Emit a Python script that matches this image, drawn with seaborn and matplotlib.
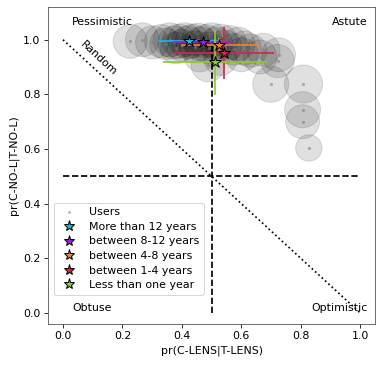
# -*- coding: utf-8 -*-
"""
Quadrant chart of user calibration: pr(C-LENS|T-LENS) against pr(C-NO-L|T-NO-L),
with one star per experience group and its spread as error bars.
"""

import matplotlib
matplotlib.use("Agg")
import matplotlib.pyplot as plt
import seaborn as sns
import pandas as pd

# --- individual users (x, y, bubble size) ---
user_x = [0.226, 0.267, 0.300, 0.330, 0.345, 0.360, 0.375, 0.390, 0.400, 0.410,
          0.420, 0.435, 0.445, 0.455, 0.465, 0.480, 0.490, 0.500, 0.515, 0.530,
          0.545, 0.560, 0.575, 0.590, 0.610, 0.630, 0.663, 0.674, 0.725, 0.722,
          0.488, 0.530, 0.460, 0.699, 0.809, 0.806, 0.806, 0.827, 0.600, 0.380]
user_y = [0.994, 1.000, 0.990, 0.995, 0.985, 1.000, 0.990, 0.995, 0.980, 1.000,
          0.990, 0.995, 0.975, 1.000, 0.985, 0.995, 0.970, 1.000, 0.985, 0.995,
          0.975, 0.990, 0.965, 0.985, 0.970, 0.960, 0.937, 0.963, 0.945, 0.922,
          0.908, 0.930, 0.940, 0.837, 0.838, 0.744, 0.700, 0.604, 0.945, 0.970]
user_size = [1150, 1150, 1100, 1100, 1000, 1150, 1100, 1150, 1000, 1150,
             1100, 1150, 1000, 1100, 1150, 1100, 1000, 1150, 1100, 1150,
             1100, 1150, 1000, 1100, 1150, 1100, 1150, 1100, 1150, 1100,
             1150, 1100, 1000, 1300, 1450, 1300, 1150, 700, 1150, 1000]

# --- experience groups ---
groups = ["More than 12 years", "between 8-12 years", "between 4-8 years",
          "between 1-4 years", "Less than one year"]
group_x = [0.425, 0.470, 0.526, 0.540, 0.512]
group_y = [0.995, 0.990, 0.980, 0.951, 0.917]
group_xerr = [0.105, 0.100, 0.130, 0.170, 0.174]
group_yerr = [0.010, 0.010, 0.027, 0.094, 0.120]
group_colors = ["#1ab8dc", "#9a1aee", "#f0802a", "#e0204a", "#8fc830"]

users = pd.DataFrame({"x": user_x, "y": user_y, "size": user_size})

FS = 11

sns.set_style("ticks")
plt.rcParams["font.family"] = ["DejaVu Sans"]
plt.rcParams["font.size"] = FS
plt.rcParams["axes.edgecolor"] = "0.3"
plt.rcParams["text.color"] = "black"
plt.rcParams["axes.labelcolor"] = "black"
plt.rcParams["xtick.color"] = "black"
plt.rcParams["ytick.color"] = "black"
plt.rcParams["xtick.major.size"] = 4
plt.rcParams["ytick.major.size"] = 4

fig, ax = plt.subplots(figsize=(382 / 72, 366 / 72))
fig.subplots_adjust(left=0.126, right=0.982, bottom=0.115, top=0.981)

# reference lines
ax.plot([0, 1], [1, 0], "k:", lw=1.7, zorder=1)
ax.plot([0, 1], [0.5, 0.5], "k--", lw=1.7, zorder=1)
ax.plot([0.5, 0.5], [0, 1], "k--", lw=1.7, zorder=1)

# users: translucent bubbles plus a small dot at the centre
ax.scatter(users["x"], users["y"], s=users["size"], facecolor="k",
           edgecolor="k", alpha=0.12, linewidth=1, zorder=2)
sns.scatterplot(data=users, x="x", y="y", color="gray", s=10, alpha=0.6,
                linewidth=0, label="Users", ax=ax, zorder=2)

# groups: error bars then stars
for name, gx, gy, ex, ey, c in zip(groups, group_x, group_y,
                                     group_xerr, group_yerr, group_colors):
    ax.errorbar(gx, gy, xerr=ex, yerr=ey, fmt="none", ecolor=c,
                elinewidth=1.7, zorder=3)
for name, gx, gy, c in zip(groups, group_x, group_y, group_colors):
    ax.plot(gx, gy, marker="*", ms=13, mfc=c, mec="k", mew=1, ls="",
            label=name, zorder=4)

# quadrant names
ax.text(0.03, 1.065, "Pessimistic", va="center", ha="left")
ax.text(1.025, 1.065, "Astute", va="center", ha="right")
ax.text(0.033, 0.018, "Obtuse", va="center", ha="left")
ax.text(1.025, 0.018, "Optimistic", va="center", ha="right")
ax.text(0.12, 0.933, "Random", va="center", ha="center", rotation=-43)

ax.set_xlim(-0.05, 1.05)
ax.set_ylim(-0.04, 1.12)
ax.set_xticks([0.0, 0.2, 0.4, 0.6, 0.8, 1.0])
ax.set_yticks([0.0, 0.2, 0.4, 0.6, 0.8, 1.0])
ax.set_xlabel("pr(C-LENS|T-LENS)")
ax.set_ylabel("pr(C-NO-L|T-NO-L)")

ax.legend(loc="lower left", bbox_to_anchor=(0, 0.075), fontsize=FS,
          markerscale=0.85, handletextpad=0.8, labelspacing=0.42)

fig.savefig("out.png", dpi=72)
